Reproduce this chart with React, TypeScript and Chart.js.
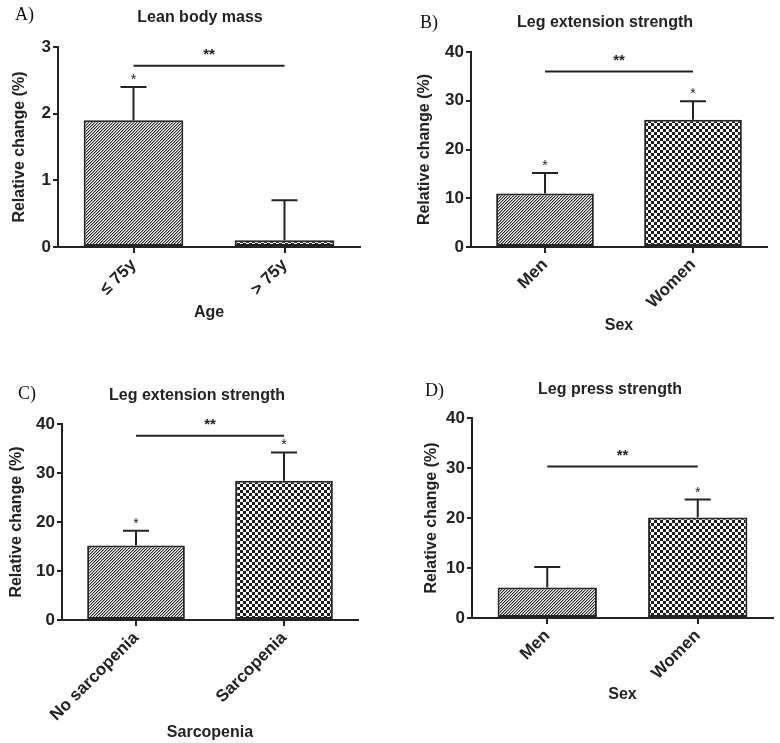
import React, { useEffect, useRef } from 'react';
import { Chart, registerables } from 'chart.js';

Chart.register(...registerables);

// ---------- data ----------
const panelLabels = ['A)', 'B)', 'C)', 'D)'];
const chartTitles = ['Lean body mass', 'Leg extension strength', 'Leg extension strength', 'Leg press strength'];
const xAxisTitles = ['Age', 'Sex', 'Sarcopenia', 'Sex'];
const yAxisTitle = 'Relative change (%)';

const categoriesA = ['≤ 75y', '> 75y'];
const valuesA = [1.9, 0.1];
const errorsA = [0.5, 0.6];
const starsA = ['*', ''];
const sigA = 2.72;
const yTicksA = { max: 3, step: 1 };

const categoriesB = ['Men', 'Women'];
const valuesB = [11.0, 26.1];
const errorsB = [4.2, 3.8];
const starsB = ['*', '*'];
const sigB = 36.0;
const yTicksB = { max: 40, step: 10 };

const categoriesC = ['No sarcopenia', 'Sarcopenia'];
const valuesC = [15.2, 28.4];
const errorsC = [3.0, 5.8];
const starsC = ['*', '*'];
const sigC = 37.6;
const yTicksC = { max: 40, step: 10 };

const categoriesD = ['Men', 'Women'];
const valuesD = [6.1, 20.1];
const errorsD = [4.1, 3.6];
const starsD = ['', '*'];
const sigD = 30.3;
const yTicksD = { max: 40, step: 10 };

const sigLabel = '**';

// ---------- layout (positions / styles) ----------
type Layout = {
  left: number; top: number; w: number; h: number;
  plotL: number; plotR: number; plotT: number;
  plotB: number; yTitlePad: number; xTitlePad: number;
  titleX: number; titleY: number; labelX: number; labelY: number;
};

const layouts: Layout[] = [
  { left: 0, top: 0, w: 390, h: 370, plotL: 58, plotR: 360, plotT: 47, plotB: 247, yTitlePad: 10.4, xTitlePad: 47.4, titleX: 200, titleY: 18, labelX: 15, labelY: 15 },
  { left: 390, top: 0, w: 390, h: 370, plotL: 81, plotR: 377, plotT: 52, plotB: 247, yTitlePad: 25.4, xTitlePad: 34.4, titleX: 215, titleY: 23, labelX: 30, labelY: 23 },
  { left: 0, top: 370, w: 390, h: 373, plotL: 62, plotR: 358, plotT: 54, plotB: 250, yTitlePad: 7.4, xTitlePad: 0.4, titleX: 197, titleY: 26, labelX: 18, labelY: 24 },
  { left: 390, top: 370, w: 390, h: 373, plotL: 82, plotR: 383, plotT: 48, plotB: 248, yTitlePad: 32.4, xTitlePad: 38.4, titleX: 220, titleY: 20, labelX: 35, labelY: 21 },
];

const INK = '#232323';
const SANS = '"Liberation Sans", Arial, Helvetica, sans-serif';
const SERIF = '"Liberation Serif", "Times New Roman", serif';

function makeHatch(): CanvasPattern | string {
  const c = document.createElement('canvas');
  c.width = 3; c.height = 3;
  const ctx = c.getContext('2d');
  if (!ctx) return '#888';
  const img = ctx.createImageData(3, 3);
  for (let y = 0; y < 3; y++) {
    for (let x = 0; x < 3; x++) {
      const d = (x + y) % 3;
      const v = d === 0 ? 40 : d === 1 ? 165 : 255;
      const i = (y * 3 + x) * 4;
      img.data[i] = v; img.data[i + 1] = v; img.data[i + 2] = v; img.data[i + 3] = 255;
    }
  }
  ctx.putImageData(img, 0, 0);
  return ctx.createPattern(c, 'repeat') || '#888';
}

function makeChecker(): CanvasPattern | string {
  const c = document.createElement('canvas');
  c.width = 6; c.height = 6;
  const ctx = c.getContext('2d');
  if (!ctx) return '#555';
  ctx.fillStyle = '#ffffff';
  ctx.fillRect(0, 0, 6, 6);
  ctx.fillStyle = '#1e1e1e';
  ctx.fillRect(0, 0, 3, 3);
  ctx.fillRect(3, 3, 3, 3);
  return ctx.createPattern(c, 'repeat') || '#555';
}

type PanelData = {
  label: string; title: string; xTitle: string;
  categories: string[]; values: number[]; errors: number[]; stars: string[];
  sig: number; yTicks: { max: number; step: number };
};

const panels: PanelData[] = [
  { label: panelLabels[0], title: chartTitles[0], xTitle: xAxisTitles[0], categories: categoriesA, values: valuesA, errors: errorsA, stars: starsA, sig: sigA, yTicks: yTicksA },
  { label: panelLabels[1], title: chartTitles[1], xTitle: xAxisTitles[1], categories: categoriesB, values: valuesB, errors: errorsB, stars: starsB, sig: sigB, yTicks: yTicksB },
  { label: panelLabels[2], title: chartTitles[2], xTitle: xAxisTitles[2], categories: categoriesC, values: valuesC, errors: errorsC, stars: starsC, sig: sigC, yTicks: yTicksC },
  { label: panelLabels[3], title: chartTitles[3], xTitle: xAxisTitles[3], categories: categoriesD, values: valuesD, errors: errorsD, stars: starsD, sig: sigD, yTicks: yTicksD },
];

function Panel({ data, lay }: { data: PanelData; lay: Layout }) {
  const ref = useRef<HTMLCanvasElement | null>(null);

  useEffect(() => {
    if (!ref.current) return;
    const hatch = makeHatch();
    const checker = makeChecker();

    const annot = {
      id: 'annot',
      afterDraw(chart: any) {
        const ctx = chart.ctx as CanvasRenderingContext2D;
        const xs = chart.scales.x;
        const ys = chart.scales.y;
        ctx.save();
        ctx.strokeStyle = INK;
        ctx.fillStyle = INK;
        ctx.lineWidth = 2;
        ctx.lineCap = 'butt';
        // error bars + stars
        data.values.forEach((v, i) => {
          const cx = xs.getPixelForValue(i);
          const yv = ys.getPixelForValue(v);
          const ye = ys.getPixelForValue(v + data.errors[i]);
          ctx.beginPath();
          ctx.moveTo(cx, yv);
          ctx.lineTo(cx, ye);
          ctx.moveTo(cx - 13, ye);
          ctx.lineTo(cx + 13, ye);
          ctx.stroke();
          if (data.stars[i]) {
            ctx.font = `14px ${SANS}`;
            ctx.textAlign = 'center';
            ctx.textBaseline = 'alphabetic';
            ctx.fillText(data.stars[i], cx, ye - 3);
          }
        });
        // significance line
        const x0 = xs.getPixelForValue(0);
        const x1 = xs.getPixelForValue(data.values.length - 1);
        const ys0 = ys.getPixelForValue(data.sig);
        ctx.beginPath();
        ctx.moveTo(x0, ys0);
        ctx.lineTo(x1, ys0);
        ctx.stroke();
        ctx.font = `bold 15px ${SANS}`;
        ctx.textAlign = 'center';
        ctx.textBaseline = 'alphabetic';
        ctx.fillText(sigLabel, (x0 + x1) / 2, ys0 - 7);
        // chart title
        ctx.font = `bold 16px ${SANS}`;
        ctx.textBaseline = 'middle';
        ctx.fillText(data.title, lay.titleX, lay.titleY);
        // panel label
        ctx.font = `18px ${SERIF}`;
        ctx.textAlign = 'left';
        ctx.fillStyle = '#111';
        ctx.fillText(data.label, lay.labelX, lay.labelY);
        ctx.restore();
      },
    };

    const chart = new Chart(ref.current, {
      type: 'bar',
      data: {
        labels: data.categories,
        datasets: [
          {
            data: data.values,
            backgroundColor: [hatch as any, checker as any],
            borderColor: INK,
            borderWidth: 2,
            borderSkipped: false,
            barPercentage: 0.66,
            categoryPercentage: 1,
          },
        ],
      },
      options: {
        responsive: false,
        animation: false,
        devicePixelRatio: 1,
        layout: { padding: { top: lay.plotT, right: lay.w - lay.plotR, bottom: 0, left: 0 } },
        plugins: { legend: { display: false }, tooltip: { enabled: false }, title: { display: false } },
        scales: {
          x: {
            offset: true,
            grid: { display: true, offset: false, drawOnChartArea: false, drawTicks: true, tickLength: 6, color: INK, lineWidth: 2 },
            border: { display: true, color: INK, width: 2 },
            ticks: { autoSkip: false, minRotation: 45, maxRotation: 45, color: INK, padding: 2, font: { family: SANS, size: 17, weight: 'bold' } },
            title: { display: true, text: data.xTitle, color: INK, padding: { top: 0, bottom: lay.xTitlePad }, font: { family: SANS, size: 16, weight: 'bold' } },
            afterFit: (s: any) => { s.height = lay.h - lay.plotB; },
          },
          y: {
            min: 0,
            max: data.yTicks.max,
            ticks: { stepSize: data.yTicks.step, color: INK, padding: 2, font: { family: SANS, size: 17, weight: 'bold' } },
            grid: { display: true, drawOnChartArea: false, drawTicks: true, tickLength: 5, color: INK, lineWidth: 2 },
            border: { display: true, color: INK, width: 2 },
            title: { display: true, text: yAxisTitle, color: INK, padding: { top: lay.yTitlePad, bottom: 0 }, font: { family: SANS, size: 16, weight: 'bold' } },
            afterFit: (s: any) => { s.width = lay.plotL; },
          },
        },
      } as any,
      plugins: [annot],
    });
    return () => chart.destroy();
  }, []);

  return (
    <div style={{ position: 'absolute', left: lay.left, top: lay.top, width: lay.w, height: lay.h }}>
      <canvas ref={ref} width={lay.w} height={lay.h} style={{ width: lay.w, height: lay.h, display: 'block' }} />
    </div>
  );
}

export default function App() {
  return (
    <div style={{ position: 'absolute', left: 0, top: 0, width: 780, height: 743, background: '#ffffff', overflow: 'hidden' }}>
      {panels.map((p, i) => (
        <Panel key={i} data={p} lay={layouts[i]} />
      ))}
    </div>
  );
}
